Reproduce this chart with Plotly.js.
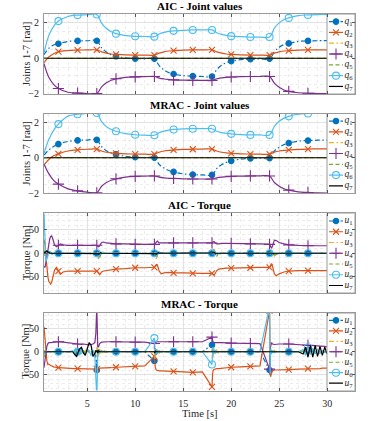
<!DOCTYPE html>
<html>
<head>
<meta charset="utf-8">
<script src="https://cdn.plot.ly/plotly-3.0.1.min.js"></script>
<style>
  html, body { margin: 0; padding: 0; background: #fff; }
  #chart { width: 374px; height: 421px; }
</style>
</head>
<body>
<div id="chart"></div>
<script>
// joint positions [rad], sampled on tJoint [s]
const tJoint = [0.5, 1, 1.5, 2, 3, 4, 5, 6, 6.5, 7, 7.5, 8, 9, 10, 11, 12, 12.5, 13, 13.5, 14,
  15, 16, 17, 18, 18.5, 19, 19.5, 20, 21, 22, 23, 24, 24.5, 25, 25.5, 26, 27, 28, 29, 30];

const aicQ1 = [0.2, 0.56, 0.75, 0.82, 0.95, 0.98, 0.99, 0.99, 0.59, 0.35, 0.19, 0.11, 0.02, -0.02, -0.03, -0.03,
  -0.42, -0.66, -0.81, -0.89, -0.98, -1.01, -1.03, -1.03, -0.64, -0.40, -0.25, -0.16, -0.08, -0.05, -0.04, -0.03,
  0.37, 0.62, 0.77, 0.84, 0.95, 0.98, 0.99, 1.0];
const aicQ2 = [-0.25, 0.07, 0.25, 0.37, 0.44, 0.46, 0.47, 0.47, 0.36, 0.29, 0.24, 0.22, 0.19, 0.18, 0.18, 0.18,
  0.29, 0.36, 0.41, 0.43, 0.46, 0.47, 0.47, 0.47, 0.36, 0.29, 0.24, 0.22, 0.19, 0.18, 0.18, 0.18,
  0.29, 0.36, 0.41, 0.43, 0.46, 0.47, 0.47, 0.47];
const aicQ4 = [-0.3, -1.07, -1.47, -1.71, -1.92, -1.97, -1.99, -2.0, -1.62, -1.39, -1.24, -1.16, -1.08, -1.05, -1.04, -1.03,
  -1.12, -1.17, -1.20, -1.22, -1.24, -1.25, -1.25, -1.25, -1.16, -1.11, -1.08, -1.06, -1.04, -1.03, -1.03, -1.03,
  -1.41, -1.64, -1.79, -1.87, -1.95, -1.98, -1.99, -2.0];
const aicQ6 = [0.3, 1.28, 1.80, 2.10, 2.36, 2.44, 2.46, 2.47, 1.98, 1.68, 1.50, 1.39, 1.28, 1.24, 1.23, 1.22,
  1.37, 1.46, 1.52, 1.55, 1.58, 1.60, 1.60, 1.60, 1.44, 1.35, 1.29, 1.25, 1.22, 1.20, 1.20, 1.20,
  1.70, 2.00, 2.19, 2.28, 2.41, 2.45, 2.47, 2.47];

const mracQ1 = [0.15, 0.44, 0.64, 0.77, 0.92, 0.98, 1.0, 1.01, 0.62, 0.40, 0.27, 0.19, 0.08, 0.03, 0.01, 0.0,
  -0.38, -0.58, -0.72, -0.80, -0.91, -0.95, -0.97, -0.97, -0.60, -0.39, -0.26, -0.18, -0.08, -0.04, -0.02, -0.02,
  0.38, 0.60, 0.74, 0.83, 0.94, 0.97, 0.99, 1.0];
const mracQ2 = [-0.4, -0.1, 0.11, 0.22, 0.38, 0.45, 0.48, 0.49, 0.38, 0.31, 0.27, 0.25, 0.22, 0.21, 0.2, 0.2,
  0.31, 0.38, 0.42, 0.44, 0.47, 0.48, 0.49, 0.49, 0.38, 0.31, 0.27, 0.25, 0.22, 0.21, 0.2, 0.2,
  0.31, 0.38, 0.42, 0.44, 0.47, 0.49, 0.5, 0.5];
const mracQ4 = [-0.35, -0.9, -1.28, -1.49, -1.76, -1.87, -1.94, -1.98, -1.61, -1.40, -1.27, -1.19, -1.09, -1.05, -1.04, -1.03,
  -1.10, -1.14, -1.16, -1.17, -1.19, -1.2, -1.2, -1.2, -1.13, -1.09, -1.07, -1.05, -1.04, -1.03, -1.03, -1.03,
  -1.40, -1.61, -1.75, -1.83, -1.93, -1.96, -1.99, -2.0];
const mracQ6 = [0.25, 1.03, 1.55, 1.9, 2.35, 2.46, 2.51, 2.53, 2.04, 1.76, 1.60, 1.50, 1.36, 1.30, 1.28, 1.27,
  1.41, 1.50, 1.56, 1.60, 1.63, 1.64, 1.64, 1.64, 1.50, 1.42, 1.38, 1.35, 1.31, 1.29, 1.29, 1.29,
  1.77, 2.06, 2.24, 2.34, 2.46, 2.50, 2.52, 2.52];

// q3, q5 and q7 stay on zero in both runs
const jointZero = [0, 0, 0, 0, 0, 0, 0, 0, 0, 0, 0, 0, 0, 0, 0, 0, 0, 0, 0, 0,
  0, 0, 0, 0, 0, 0, 0, 0, 0, 0, 0, 0, 0, 0, 0, 0, 0, 0, 0, 0];

// AIC torques [Nm]
const tAic = [0.5, 0.6, 0.7, 0.8, 0.9, 1.0, 1.1, 1.2, 1.3, 1.4, 1.5, 1.6, 1.8, 2, 2.2, 2.5, 3, 4, 5, 6,
  6.1, 6.2, 6.3, 6.4, 6.5, 6.7, 7, 7.5, 8, 9, 10, 11, 12,
  12.1, 12.2, 12.3, 12.4, 12.5, 12.7, 13, 13.5, 14, 15, 16, 17, 18,
  18.1, 18.2, 18.3, 18.4, 18.5, 18.7, 19, 19.5, 20, 21, 22, 23, 24,
  24.1, 24.2, 24.3, 24.4, 24.5, 24.7, 25, 25.5, 26, 27, 28, 29, 30];
const aicU1 = [5, 3, -5, -8, -4, 2, 3, 1, -1, -1, 0, 0, 0, 0, 0, 0, 0, 0, 0, 0,
  -6, -13, -8, -2, 2, 1, 0, 0, 0, 0, 0, 0, 0,
  -5, -10, -6, 0, 2, 1, 0, 0, 0, 0, 0, 0, 0,
  5, 8, 2, -4, -5, -2, 0, 0, 0, 0, 0, 0, 0,
  3, 5, 1, -3, -4, -2, 0, 0, 0, 0, 0, 0, 0];
const aicU2 = [29, 20, -5, -30, -50, -60, -65, -66, -62, -55, -45, -36, -30, -38, -45, -40, -38, -38, -38, -38,
  -40, -44, -46, -43, -40, -38, -37, -35, -34, -33, -31, -31, -30,
  -27, -24, -25, -32, -38, -44, -42, -41, -42, -42, -43, -43, -43,
  -45, -46, -44, -40, -37, -34, -33, -32, -32, -31, -31, -30, -30,
  -25, -22, -27, -36, -44, -48, -44, -40, -38, -37, -37, -37, -37];
const aicU3 = [8, 5, 2, 0, -2, -1, 0, 0, 0, 0, 0, 0, 0, 0, 0, 0, 0, 0, 0, 0,
  -5, -11, -8, 0, 4, 2, 0, 0, 0, 0, 0, 0, 0,
  -6, -12, -6, 3, 4, 1, 0, 0, 0, 0, 0, 0, 0,
  6, 11, 4, -5, -7, -3, 0, 0, 0, 0, 0, 0, 0,
  3, 6, 2, -4, -6, -3, 0, 0, 0, 0, 0, 0, 0];
const aicU4 = [-28, -30, -20, -5, 10, 22, 31, 36, 37, 32, 25, 18, 14, 17, 20, 18, 17, 17, 17, 17,
  15, 14, 16, 20, 23, 24, 22, 21, 20, 20, 19, 19, 19,
  21, 24, 26, 24, 22, 22, 22, 22, 22, 22, 22, 22, 22,
  24, 25, 23, 21, 20, 20, 21, 21, 21, 21, 20, 20, 19,
  13, 11, 15, 23, 28, 27, 23, 20, 18, 17, 16, 16, 16];
const aicU5 = [-5, -3, 2, 3, 1, 0, 0, 0, 0, 0, 0, 0, 0, 0, 0, 0, 0, 0, 0, 0,
  -2, -4, -2, 1, 2, 1, 0, 0, 0, 0, 0, 0, 0,
  -2, -4, -2, 1, 2, 1, 0, 0, 0, 0, 0, 0, 0,
  2, 4, 1, -2, -3, -1, 0, 0, 0, 0, 0, 0, 0,
  2, 3, 1, -2, -3, -1, 0, 0, 0, 0, 0, 0, 0];
const aicU6 = [88, 30, -18, -12, -3, 3, 4, 1, -2, -2, 0, 1, 0, 0, 0, 0, 0, 0, 0, 0,
  2, -3, 3, -1, 1, 0, 0, 0, 0, 0, 0, 0, 0,
  2, -3, 3, -1, 1, 0, 0, 0, 0, 0, 0, 0, 0,
  -2, 3, -2, 1, 0, 0, 0, 0, 0, 0, 0, 0, 0,
  -2, 3, -2, 1, 0, 0, 0, 0, 0, 0, 0, 0, 0];
const aicU7 = [0, 2, 4, 5, 3, 1, 0, 0, 0, 0, 0, 0, 0, 0, 0, 0, 0, 0, 0, 0,
  -1, -2, 0, 1, 0, 0, 0, 0, 0, 0, 0, 0, 0,
  -1, -2, 0, 1, 0, 0, 0, 0, 0, 0, 0, 0, 0,
  1, 2, 0, -1, 0, 0, 0, 0, 0, 0, 0, 0, 0,
  1, 1, 0, -1, 0, 0, 0, 0, 0, 0, 0, 0, 0];

// MRAC torques [Nm]
const tMrac = [0.5, 0.6, 0.7, 0.8, 0.9, 1.0, 1.2, 1.5, 2, 2.5, 3,
  3.5, 3.7, 3.9, 4, 4.2, 4.4, 4.6, 4.8, 5, 5.2, 5.4, 5.6, 5.8, 5.9, 6,
  6.05, 6.1, 6.2, 6.3, 6.5, 6.7, 7, 7.5, 8, 9, 10, 11, 12,
  12.05, 12.1, 12.2, 12.3, 12.5, 12.7, 13, 14, 15, 16, 17, 18,
  18.05, 18.1, 18.2, 18.3, 18.5, 18.7, 19, 20, 21, 22, 23, 24,
  24.05, 24.1, 24.2, 24.3, 24.5, 24.7, 25, 26, 27,
  27.5, 27.75, 28, 28.25, 28.5, 28.75, 29, 29.25, 29.5, 29.75, 30];
const mracU1 = [-5, -2, 0, 0, 0, 0, 0, 0, 0, 0, 0,
  0, 0, 2, 0, -2, 3, -2, -2, 2, 0, -3, 2, -5, -15, -40,
  -10, 5, -2, 0, 0, 0, 0, 0, 0, 0, 0, 0, -20,
  -10, 5, -3, 1, 0, 0, 0, 0, 0, 0, 0, 15,
  5, -5, 2, -1, 0, 0, 0, 0, 0, 0, 0, -40,
  10, -5, 2, -1, 0, 0, 0, 0, 0,
  2, -3, 3, -2, 2, -2, 2, -1, 1, -1, 0];
const mracU2 = [55, 30, 0, -20, -28, -27, -30, -33, -35, -36, -37,
  -37, -37, -37, -37, -37, -37, -37, -37, -37, -37, -37, -37, -38, -38, -38,
  -36, -37, -37, -36, -36, -36, -36, -35, -34, -33, -32, -31, -10,
  -25, -35, -40, -41, -42, -42, -42, -43, -44, -45, -44, -77,
  -55, -42, -39, -38, -37, -37, -36, -34, -33, -32, -31, 90,
  -30, -55, -48, -42, -40, -40, -40, -39, -38,
  -38, -38, -37, -37, -37, -37, -37, -37, -36, -36, -36];
const mracU3 = [3, 2, 0, 0, 0, 0, 0, 0, 0, 0, 0,
  0, 2, -2, 3, -3, 2, -2, 3, -2, 2, -3, 2, -4, 5, 10,
  -12, 8, -10, 6, -5, 4, -2, 1, 0, 0, 0, 0, 0,
  -15, 8, -6, 5, -3, 2, 0, 0, 0, 0, 0, 0,
  10, -15, 8, -6, 5, -3, 1, 0, 0, 0, 0, 0,
  15, -10, 6, -4, 3, -2, 0, 0, 0,
  2, -2, 3, -3, 2, -2, 2, -2, 1, -1, 0];
const mracU4 = [-35, -20, 0, 12, 18, 20, 20, 21, 22, 21, 20,
  19, 18, 17, 17, 16, 16, 17, 16, 15, 15, 16, 17, 20, 40, 100,
  40, 10, 12, 18, 21, 22, 22, 22, 22, 21, 21, 21, 18,
  20, 21, 21, 22, 22, 22, 22, 22, 22, 22, 22, 32,
  25, 22, 20, 20, 21, 21, 20, 19, 19, 18, 18, -38,
  -10, 10, 20, 17, 16, 17, 17, 17, 16,
  15, 15, 14, 14, 14, 13, 13, 13, 12, 12, 11];
const mracU5 = [-12, -5, 0, 0, 0, 0, 0, 0, 0, 0, 0,
  0, -3, 2, -4, 3, -5, 2, -3, 4, -2, -6, 3, -2, 2, 0,
  5, -6, 4, -3, 2, -1, 0, 0, 0, 0, 0, 0, 0,
  -6, 4, -3, 2, -1, 0, 0, 0, 0, 0, 0, 0,
  5, -6, 4, -2, 1, 0, 0, 0, 0, 0, 0, 0,
  4, -4, 3, -2, 1, 0, 0, 0, 0,
  0, -3, 3, -4, 4, -3, 3, -2, 2, -1, 0];
const mracU6 = [-5, 0, 2, 0, 0, 0, 0, 0, 0, 0, 0,
  2, -4, 8, 0, -4, 9, -3, -7, 6, 2, -8, 4, -10, -40, -100,
  -60, -5, 6, -3, 2, 0, 0, 0, 0, 0, 0, 0, 30,
  10, -8, 6, -4, 2, 0, 0, 0, 0, 0, 0, -28,
  -10, 10, -5, 4, -2, 0, 0, 0, 0, 0, 0, 100,
  -50, 5, -5, 3, -2, 0, 0, 0, 0,
  5, -8, 10, -6, 8, -5, 6, -4, 3, -2, 0];
const mracU7 = [0, 0, 0, 0, 0, 0, 0, 0, 0, 0, 0,
  0, -6, -10, -4, 6, 10, -2, -8, 8, 20, 15, -10, -4, 2, 0,
  3, -3, 2, 0, 0, 0, 0, 0, 0, 0, 0, 0, 0,
  -3, 2, 0, 0, 0, 0, 0, 0, 0, 0, 0, 0,
  0, 0, 0, 0, 0, 0, 0, 0, 0, 0, 0, 0,
  0, 0, 0, 0, 0, 0, 0, 0, 0,
  -5, 10, -12, 14, -12, 14, -10, 12, -8, 10, -5];

const jointLabels = ['<i>q</i><sub>1</sub>', '<i>q</i><sub>2</sub>', '<i>q</i><sub>3</sub>', '<i>q</i><sub>4</sub>',
  '<i>q</i><sub>5</sub>', '<i>q</i><sub>6</sub>', '<i>q</i><sub>7</sub>'];
const torqueLabels = ['<i>u</i><sub>1</sub>', '<i>u</i><sub>2</sub>', '<i>u</i><sub>3</sub>', '<i>u</i><sub>4</sub>',
  '<i>u</i><sub>5</sub>', '<i>u</i><sub>6</sub>', '<i>u</i><sub>7</sub>'];
const panelTitles = ['AIC - Joint values', 'MRAC - Joint values', 'AIC - Torque', 'MRAC - Torque'];
const yTitles = ['Joints 1-7 [rad]', 'Joints 1-7 [rad]', 'Torque [Nm]', 'Torque [Nm]'];

// matlab default colour order
const lineStyles = [
  {color: '#0072BD', dash: '5px,2.5px,1.5px,2.5px', symbol: 'circle', size: 5.5},
  {color: '#D95319', dash: 'solid', symbol: 'x-thin-open', size: 6},
  {color: '#EDB120', dash: '5px,2.5px,1.5px,2.5px'},
  {color: '#7E2F8E', dash: 'solid', symbol: 'cross-thin-open', size: 8},
  {color: '#77AC30', dash: '4px,2.5px'},
  {color: '#4DBEEE', dash: 'solid', symbol: 'circle-open', size: 7},
  {color: '#000000', dash: 'solid'}
];

const serif = 'Liberation Serif, Times New Roman, serif';
const L = 44 / 374, R = 355 / 374;
const panelY = [[0.7767, 0.9667], [0.5404, 0.7304], [0.3040, 0.4929], [0.0724, 0.2565]];

function axisId(n) {
  return n === 1 ? '' : String(n);
}

// markers only every 2 s, like matlab's MarkerIndices
function isMarked(v) {
  return v >= 2 && v < 30 && v % 2 === 0;
}

function markerFor(st, t) {
  return {
    symbol: st.symbol, color: st.color,
    size: t.map(function (v) { return isMarked(v) ? st.size : 0; }),
    opacity: t.map(function (v) { return isMarked(v) ? 1 : 0; }),
    line: {color: st.color, width: 1.1}
  };
}

function seriesTraces(t, seriesList, n, shape) {
  return seriesList.map(function (ys, i) {
    var st = lineStyles[i];
    var tr = {
      type: 'scatter', x: t, y: ys,
      xaxis: 'x' + axisId(n), yaxis: 'y' + axisId(n),
      mode: st.symbol ? 'lines+markers' : 'lines',
      line: {color: st.color, width: 1.2, dash: st.dash, shape: shape},
      showlegend: false, hoverinfo: 'skip'
    };
    if (st.symbol) tr.marker = markerFor(st, t);
    return tr;
  });
}

// hand made legend on axes overlaid on the panel (plotly's legend rows are too tall here);
// legend x units are pixels from the box's left edge, y units are rows
function legendTraces(labels, n) {
  var out = [{
    type: 'scatter', x: [0, 28, 28, 0, 0], y: [0.3, 0.3, 7.7, 7.7, 0.3],
    xaxis: 'x' + n, yaxis: 'y' + n, mode: 'lines', fill: 'toself', fillcolor: '#ffffff',
    line: {color: '#9a9a9a', width: 1}, showlegend: false, hoverinfo: 'skip'
  }];
  labels.forEach(function (lab, i) {
    var st = lineStyles[i];
    var tr = {
      type: 'scatter', x: [2, 9, 16], y: [i + 1, i + 1, i + 1],
      xaxis: 'x' + n, yaxis: 'y' + n,
      mode: st.symbol ? 'lines+markers' : 'lines',
      line: {color: st.color, width: 1.2, dash: st.dash},
      showlegend: false, hoverinfo: 'skip'
    };
    if (st.symbol) {
      tr.marker = {symbol: st.symbol, size: [0, st.size, 0], color: st.color, opacity: [0, 1, 0],
        line: {color: st.color, width: 1.1}};
    }
    out.push(tr);
    out.push({
      type: 'scatter', x: [17.5], y: [i + 1], xaxis: 'x' + n, yaxis: 'y' + n,
      mode: 'text', text: [lab], textposition: 'middle right', cliponaxis: false,
      textfont: {family: serif, size: 9.5, color: '#262626'},
      showlegend: false, hoverinfo: 'skip'
    });
  });
  return out;
}

var tickFont = {family: serif, size: 10, color: '#262626'};

function mainXAxis(n) {
  return {
    domain: [L, R], range: [0.5, 32.9], anchor: 'y' + axisId(n),
    tick0: 0, dtick: 5, ticks: 'inside', ticklen: 3, tickcolor: '#555',
    showticklabels: n === 4, tickfont: tickFont, ticklabelstandoff: 3,
    showline: true, mirror: 'ticks', linecolor: '#9a9a9a', linewidth: 1,
    showgrid: true, gridcolor: '#e2e2e2', zeroline: false,
    minor: {dtick: 1, tick0: 0, showgrid: true, gridcolor: '#ececec', griddash: 'dot'},
    fixedrange: true
  };
}

function mainYAxis(n, range, dtick, minorStep) {
  return {
    domain: panelY[n - 1], range: range, anchor: 'x' + axisId(n),
    tick0: 0, dtick: dtick, ticks: 'inside', ticklen: 3, tickcolor: '#555',
    tickfont: tickFont, ticklabelstandoff: 2,
    showline: true, mirror: 'ticks', linecolor: '#9a9a9a', linewidth: 1,
    showgrid: true, gridcolor: '#e2e2e2', zeroline: false,
    minor: {dtick: minorStep, tick0: 0, showgrid: true, gridcolor: '#ececec', griddash: 'dot'},
    fixedrange: true
  };
}

var data = []
  .concat(seriesTraces(tJoint, [aicQ1, aicQ2, jointZero, aicQ4, jointZero, aicQ6, jointZero], 1, 'spline'))
  .concat(seriesTraces(tJoint, [mracQ1, mracQ2, jointZero, mracQ4, jointZero, mracQ6, jointZero], 2, 'spline'))
  .concat(seriesTraces(tAic, [aicU1, aicU2, aicU3, aicU4, aicU5, aicU6, aicU7], 3, 'linear'))
  .concat(seriesTraces(tMrac, [mracU1, mracU2, mracU3, mracU4, mracU5, mracU6, mracU7], 4, 'linear'))
  .concat(legendTraces(jointLabels, 5))
  .concat(legendTraces(jointLabels, 6))
  .concat(legendTraces(torqueLabels, 7))
  .concat(legendTraces(torqueLabels, 8));

var layout = {
  width: 374, height: 421,
  margin: {l: 0, r: 0, t: 0, b: 0},
  paper_bgcolor: '#fff', plot_bgcolor: '#fff',
  showlegend: false,
  font: {family: serif, color: '#262626'},
  xaxis: mainXAxis(1), yaxis: mainYAxis(1, [-2.02, 2.5], 2, 0.5),
  xaxis2: mainXAxis(2), yaxis2: mainYAxis(2, [-2.02, 2.5], 2, 0.5),
  xaxis3: mainXAxis(3), yaxis3: mainYAxis(3, [-85, 85], 50, 10),
  xaxis4: mainXAxis(4), yaxis4: mainYAxis(4, [-85, 85], 50, 10),
  annotations: []
};

// legend axes sit on top of panel k; the 311 px wide panel puts the box's left edge 283 px in
var plotWidthPx = 355 - 44;
for (var k = 0; k < 4; k++) {
  var n = k + 5;
  layout['xaxis' + n] = {overlaying: 'x' + axisId(k + 1), range: [-(plotWidthPx - 28), 28],
    anchor: 'y' + n, visible: false, fixedrange: true};
  layout['yaxis' + n] = {overlaying: 'y' + axisId(k + 1), range: [7.7, 0.3],
    anchor: 'x' + n, visible: false, fixedrange: true};
}

var titleY = [0.9857, 0.7506, 0.5131, 0.2779];
var mid = (L + R) / 2;
panelTitles.forEach(function (txt, i) {
  layout.annotations.push({
    text: '<b>' + txt + '</b>', x: mid, y: titleY[i], xref: 'paper', yref: 'paper',
    xanchor: 'center', yanchor: 'middle', showarrow: false,
    font: {family: serif, size: 11, color: '#000'}
  });
});
yTitles.forEach(function (txt, i) {
  layout.annotations.push({
    text: txt, textangle: -90, x: 26 / 374, y: (panelY[i][0] + panelY[i][1]) / 2,
    xref: 'paper', yref: 'paper', xanchor: 'center', yanchor: 'middle', showarrow: false,
    font: {family: serif, size: 10.5, color: '#262626'}
  });
});
layout.annotations.push({
  text: 'Time [s]', x: mid, y: 1 - 413 / 421, xref: 'paper', yref: 'paper',
  xanchor: 'center', yanchor: 'middle', showarrow: false,
  font: {family: serif, size: 10.5, color: '#262626'}
});

Plotly.newPlot('chart', data, layout, {displayModeBar: false, staticPlot: true});
</script>
</body>
</html>
